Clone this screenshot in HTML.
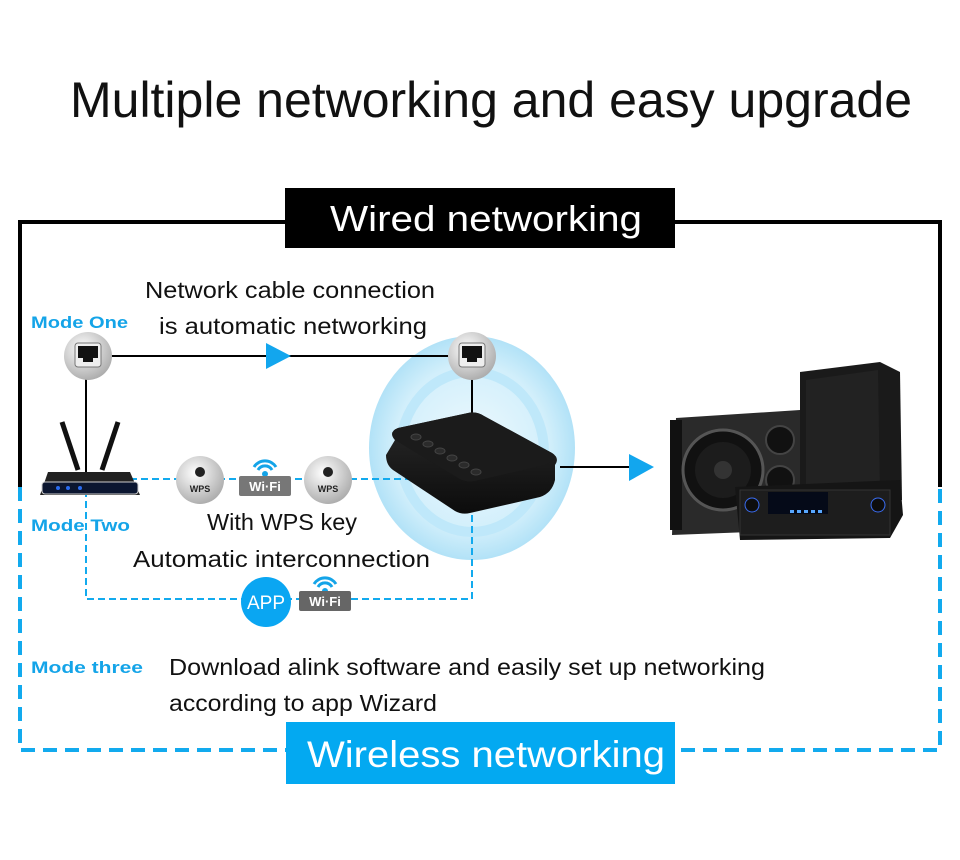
<!DOCTYPE html>
<html><head><meta charset="utf-8"><style>
html,body{margin:0;padding:0;background:#fff;}
svg{display:block;}
text{font-family:"Liberation Sans","DejaVu Sans",sans-serif;}
</style></head><body>
<svg width="960" height="860" viewBox="0 0 960 860" xmlns="http://www.w3.org/2000/svg">
<defs>
<radialGradient id="glow" cx="50%" cy="50%" r="50%">
<stop offset="0%" stop-color="#eef9fe"/><stop offset="75%" stop-color="#d2effb"/><stop offset="100%" stop-color="#b2e2f7"/>
</radialGradient>
<radialGradient id="btn" cx="40%" cy="35%" r="70%">
<stop offset="0%" stop-color="#ffffff"/><stop offset="100%" stop-color="#a9a9a9"/>
</radialGradient>
<linearGradient id="box" x1="0" y1="0" x2="0" y2="1"><stop offset="0" stop-color="#2a2a2a"/><stop offset="1" stop-color="#0c0c0c"/></linearGradient>
</defs>
<text x="70" y="117" font-size="50" textLength="842" lengthAdjust="spacingAndGlyphs" fill="#111">Multiple networking and easy upgrade</text>

<polyline points="20,487 20,222 940,222 940,487" fill="none" stroke="#000" stroke-width="4"/>
<rect x="285" y="188" width="390" height="60" fill="#000"/>
<text x="330" y="231" font-size="36" textLength="312" lengthAdjust="spacingAndGlyphs" fill="#fff">Wired networking</text>

<polyline points="20,487 20,750 940,750 940,487" fill="none" stroke="#12aaee" stroke-width="4" stroke-dasharray="14,8"/>
<rect x="286" y="722" width="389" height="62" fill="#03a9f1"/>
<text x="307" y="767" font-size="37" textLength="358" lengthAdjust="spacingAndGlyphs" fill="#fff">Wireless networking</text>

<text x="31" y="328" font-size="17" font-weight="bold" textLength="97" lengthAdjust="spacingAndGlyphs" fill="#14a4e8">Mode One</text>
<text x="31" y="531" font-size="17" font-weight="bold" textLength="99" lengthAdjust="spacingAndGlyphs" fill="#14a4e8">Mode Two</text>
<text x="31" y="673" font-size="17" font-weight="bold" textLength="112" lengthAdjust="spacingAndGlyphs" fill="#14a4e8">Mode three</text>
<text x="145" y="298" font-size="23" textLength="290" lengthAdjust="spacingAndGlyphs" fill="#111">Network cable connection</text>
<text x="159" y="334" font-size="23" textLength="268" lengthAdjust="spacingAndGlyphs" fill="#111">is automatic networking</text>
<text x="207" y="530" font-size="23" textLength="150" lengthAdjust="spacingAndGlyphs" fill="#111">With WPS key</text>
<text x="133" y="567" font-size="23" textLength="297" lengthAdjust="spacingAndGlyphs" fill="#111">Automatic interconnection</text>
<text x="169" y="675" font-size="23" textLength="596" lengthAdjust="spacingAndGlyphs" fill="#111">Download alink software and easily set up networking</text>
<text x="169" y="711" font-size="23" textLength="268" lengthAdjust="spacingAndGlyphs" fill="#111">according to app Wizard</text>

<ellipse cx="472" cy="448" rx="103" ry="112" fill="url(#glow)"/>
<ellipse cx="472" cy="452" rx="72" ry="80" fill="none" stroke="#bfe8fa" stroke-width="10"/>

<line x1="88" y1="356" x2="472" y2="356" stroke="#000" stroke-width="2"/>
<polygon points="266,343 266,369 291,356" fill="#12a6ee"/>
<line x1="86" y1="356" x2="86" y2="480" stroke="#000" stroke-width="2"/>
<line x1="472" y1="356" x2="472" y2="420" stroke="#000" stroke-width="2"/>
<line x1="560" y1="467" x2="640" y2="467" stroke="#000" stroke-width="2"/>
<polygon points="629,454 629,481 654,467" fill="#12a6ee"/>

<polyline points="130,479 415,479" fill="none" stroke="#12aaee" stroke-width="2" stroke-dasharray="7,4"/>
<polyline points="86,490 86,599 472,599 472,510" fill="none" stroke="#12aaee" stroke-width="2" stroke-dasharray="7,4"/>

<g>
<circle cx="88" cy="356" r="24" fill="url(#btn)"/>
<rect x="75" y="343" width="26" height="24" rx="3" fill="#eee" stroke="#777"/>
<path d="M78,346 h20 v12 h-5 v4 h-10 v-4 h-5z" fill="#111"/>
</g>
<g>
<circle cx="472" cy="356" r="24" fill="url(#btn)"/>
<rect x="459" y="343" width="26" height="24" rx="3" fill="#eee" stroke="#777"/>
<path d="M462,346 h20 v12 h-5 v4 h-10 v-4 h-5z" fill="#111"/>
</g>

<line x1="62" y1="422" x2="78" y2="470" stroke="#111" stroke-width="5"/>
<line x1="118" y1="422" x2="102" y2="470" stroke="#111" stroke-width="5"/>
<polygon points="48,472 130,472 140,495 40,495" fill="#222"/>
<rect x="42" y="482" width="96" height="12" rx="3" fill="#0b1630" stroke="#ccc"/>
<circle cx="58" cy="488" r="2" fill="#2a6cf0"/><circle cx="68" cy="488" r="2" fill="#2a6cf0"/><circle cx="80" cy="488" r="2" fill="#2a6cf0"/>

<g>
<circle cx="200" cy="480" r="24" fill="url(#btn)"/>
<circle cx="200" cy="472" r="5" fill="#222"/>
<text x="200" y="492" font-size="9" font-weight="bold" text-anchor="middle" fill="#222">WPS</text>
</g>
<g>
<circle cx="328" cy="480" r="24" fill="url(#btn)"/>
<circle cx="328" cy="472" r="5" fill="#222"/>
<text x="328" y="492" font-size="9" font-weight="bold" text-anchor="middle" fill="#222">WPS</text>
</g>
<g>
<path d="M254,467 a13,13 0 0 1 22,0" fill="none" stroke="#14a4e8" stroke-width="3"/>
<path d="M258,470 a8,8 0 0 1 14,0" fill="none" stroke="#14a4e8" stroke-width="3"/>
<circle cx="265" cy="474" r="3" fill="#14a4e8"/>
<rect x="239" y="476" width="52" height="20" rx="2" fill="#777"/>
<text x="265" y="491" font-size="13" font-weight="bold" text-anchor="middle" fill="#fff">Wi·Fi</text>
</g>
<circle cx="266" cy="602" r="25" fill="#0aa6f2"/>
<text x="266" y="609" font-size="19" text-anchor="middle" fill="#fff">APP</text>
<g>
<path d="M314,584 a13,13 0 0 1 22,0" fill="none" stroke="#14a4e8" stroke-width="3"/>
<path d="M318,587 a8,8 0 0 1 14,0" fill="none" stroke="#14a4e8" stroke-width="3"/>
<circle cx="325" cy="591" r="3" fill="#14a4e8"/>
<rect x="299" y="591" width="52" height="20" rx="2" fill="#666"/>
<text x="325" y="606" font-size="13" font-weight="bold" text-anchor="middle" fill="#fff">Wi·Fi</text>
</g>

<path d="M395,440 Q388,432 398,428 L468,413 Q476,411 484,416 L552,453 Q560,458 555,465 L555,480 Q552,493 540,497 L470,513 Q462,515 455,511 L393,470 Q386,465 386,455 Z" fill="url(#box)"/>
<path d="M398,428 L468,413 Q476,411 484,416 L552,453 Q560,458 545,465 L475,481 Q466,483 458,478 L395,440 Q388,432 398,428Z" fill="#1b1b1b"/>
<g fill="#2b2b2b" stroke="#444">
<ellipse cx="416" cy="437" rx="5" ry="3"/><ellipse cx="428" cy="444" rx="5" ry="3"/><ellipse cx="440" cy="451" rx="5" ry="3"/><ellipse cx="452" cy="458" rx="5" ry="3"/><ellipse cx="464" cy="465" rx="5" ry="3"/><ellipse cx="476" cy="472" rx="5" ry="3"/>
</g>

<path d="M800,372 L880,362 L900,372 L902,500 L800,500Z" fill="#1a1a1a"/>
<path d="M806,380 L878,370 L880,495 L806,495Z" fill="#222"/>
<path d="M676,418 L800,410 L800,530 L672,535Z" fill="#2a2a2a"/>
<rect x="670" y="420" width="12" height="110" fill="#111"/>
<circle cx="723" cy="470" r="40" fill="#111" stroke="#555" stroke-width="3"/>
<circle cx="723" cy="470" r="28" fill="#1c1c1c"/>
<circle cx="723" cy="470" r="9" fill="#333"/>
<circle cx="780" cy="440" r="14" fill="#111" stroke="#444" stroke-width="2"/>
<circle cx="780" cy="480" r="14" fill="#111" stroke="#444" stroke-width="2"/>
<path d="M735,487 L900,480 L903,515 L890,538 L740,540Z" fill="#151515"/>
<rect x="740" y="490" width="150" height="45" fill="#1d1d1d" stroke="#333"/>
<circle cx="752" cy="505" r="7" fill="#0d0d0d" stroke="#3a6cf0"/>
<circle cx="878" cy="505" r="7" fill="#0d0d0d" stroke="#3a6cf0"/>
<rect x="768" y="492" width="60" height="22" fill="#050a18"/>
<g fill="#58a8ff"><rect x="790" y="510" width="4" height="3"/><rect x="797" y="510" width="4" height="3"/><rect x="804" y="510" width="4" height="3"/><rect x="811" y="510" width="4" height="3"/><rect x="818" y="510" width="4" height="3"/></g>
</svg>
</body></html>
